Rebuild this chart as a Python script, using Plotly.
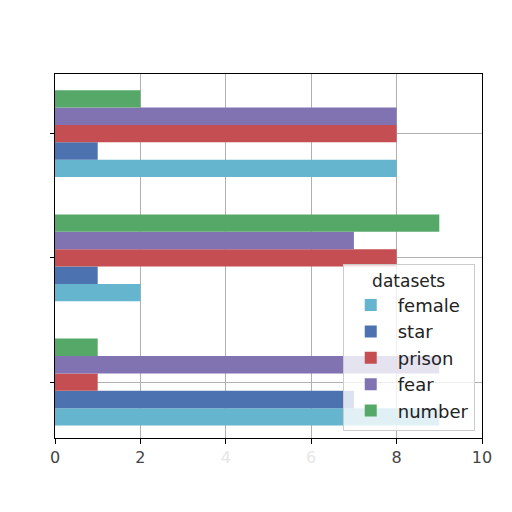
import plotly.graph_objects as go

# three unnamed groups, bottom to top
groups = [0, 1, 2]
x_ticks = [0, 2, 4, 6, 8, 10]

female = [9, 2, 8]
star = [7, 1, 1]
prison = [1, 8, 8]
fear = [9, 7, 8]
number = [1, 9, 2]

series = [
    ("female", female, "#64b5cd"),
    ("star", star, "#4c72b0"),
    ("prison", prison, "#c44e52"),
    ("fear", fear, "#8172b2"),
    ("number", number, "#55a868"),
]

fig = go.Figure()
for name, vals, col in series:
    fig.add_trace(go.Bar(x=vals, y=groups, name=name, orientation="h",
                         marker=dict(color=col, line=dict(width=0))))

# 4 and 6 are very faint in the original
tick_text = [str(t) if t not in (4, 6) else '<span style="color:#e6e6e6">%d</span>' % t
             for t in x_ticks]

fig.update_layout(
    width=512, height=512,
    margin=dict(l=47, r=38, t=66, b=82),
    paper_bgcolor="white", plot_bgcolor="white",
    barmode="group", bargap=0.3, bargroupgap=0,
    font=dict(family="DejaVu Sans", size=16, color="#444444"),
    legend=dict(
        title=dict(text="datasets", side="top center", font=dict(size=17)),
        x=0.983, y=0.02, xanchor="right", yanchor="bottom",
        traceorder="normal", itemwidth=44, tracegroupgap=0,
        bgcolor="rgba(255,255,255,0.8)", bordercolor="#cccccc", borderwidth=1,
        font=dict(size=18, color="#222222"),
    ),
    xaxis=dict(range=[0, 10], tickvals=x_ticks, ticktext=tick_text,
               showgrid=True, gridcolor="#b0b0b0", gridwidth=1,
               showline=True, linecolor="black", linewidth=1, mirror=True,
               ticks="outside", ticklen=5, tickcolor="black", zeroline=False),
    yaxis=dict(range=[-0.45, 2.48], tickvals=groups, showticklabels=False,
               showgrid=True, gridcolor="#b0b0b0", gridwidth=1,
               showline=True, linecolor="black", linewidth=1, mirror=True,
               ticks="outside", ticklen=4, tickcolor="black", zeroline=False),
)

fig.write_html("out.html")
